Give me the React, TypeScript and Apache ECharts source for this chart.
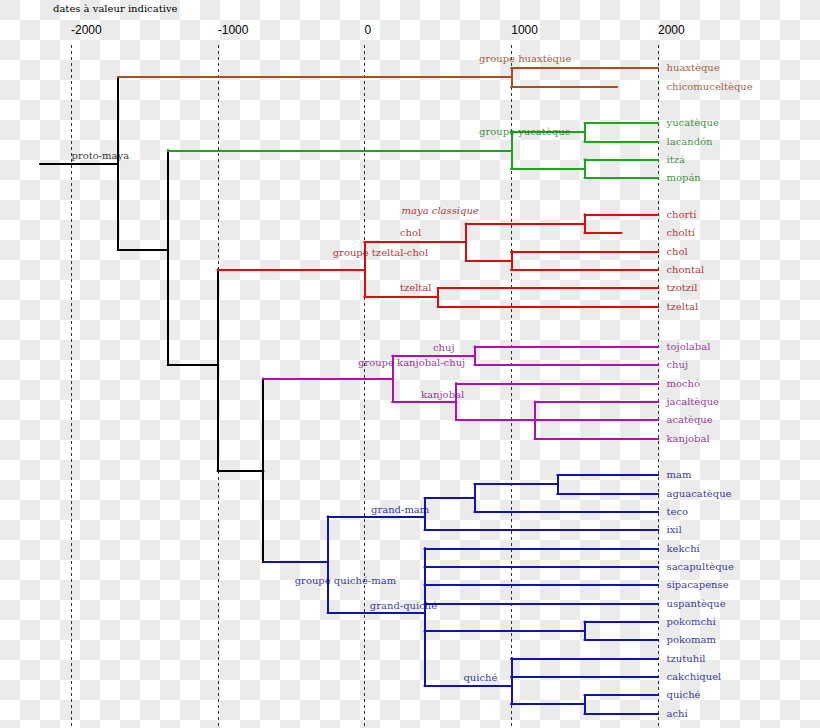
import React, { useEffect, useRef } from "react";
import * as echarts from "echarts";

// ---- axis ----
const ticks = [-2000, -1000, 0, 1000, 2000];
const axisTitle = "dates à valeur indicative";
const rootStart = -2210;

// ---- leaves (languages) ----
const leafNames = [
  "huaxtèque", "chicomuceltèque",
  "yucatèque", "lacandón", "itzá", "mopán",
  "chortí", "choltí", "chol", "chontal", "tzotzil", "tzeltal",
  "tojolabal", "chuj", "mochó", "jacaltèque", "acatèque", "kanjobal",
  "mam", "aguacatèque", "teco", "ixil", "kekchí", "sacapultèque", "sipacapense",
  "uspantèque", "pokomchí", "pokomam", "tzutuhil", "cakchiquel", "quiché", "achí",
];
const leafRows = [
  0, 1,
  3, 4, 5, 6,
  8, 9, 10, 11, 12, 13,
  15.2, 16.2, 17.2, 18.2, 19.2, 20.2,
  22.2, 23.2, 24.2, 25.2, 26.2, 27.2, 28.2,
  29.2, 30.2, 31.2, 32.2, 33.2, 34.2, 35.2,
];
const leafEnds = [
  2000, 1720,
  2000, 2000, 2000, 2000,
  2000, 1750, 2000, 2000, 2000, 2000,
  2000, 2000, 2000, 2000, 2000, 2000,
  2000, 2000, 2000, 2000, 2000, 2000, 2000,
  2000, 2000, 2000, 2000, 2000, 2000, 2000,
];

// ---- internal nodes: id, date, colour group, children, row (null = midpoint) ----
type NodeDef = [string, number, string, string[], number | null];
const nodes: NodeDef[] = [
  ["proto", -1680, "root", ["huaxG", "n1"], null],
  ["huaxG", 1000, "huax", ["huaxtèque", "chicomuceltèque"], null],
  ["n1", -1340, "root", ["yucG", "n2"], 9.93],
  ["yucG", 1000, "yuc", ["yuc1", "yuc2"], null],
  ["yuc1", 1500, "yuc", ["yucatèque", "lacandón"], null],
  ["yuc2", 1500, "yuc", ["itzá", "mopán"], null],
  ["n2", -1000, "root", ["tzchG", "n3"], 16.2],
  ["tzchG", 0, "tz", ["cholG", "tzelG"], null],
  ["cholG", 690, "tz", ["chortiG", "cholChontalG"], null],
  ["chortiG", 1500, "tz", ["chortí", "choltí"], null],
  ["cholChontalG", 1000, "tz", ["chol", "chontal"], null],
  ["tzelG", 500, "tz", ["tzotzil", "tzeltal"], null],
  ["n3", -690, "root", ["kcG", "qmG"], null],
  ["kcG", 190, "kc", ["chujG", "kanG"], null],
  ["chujG", 750, "kc", ["tojolabal", "chuj"], null],
  ["kanG", 625, "kc", ["mochó", "kan2"], null],
  ["kan2", 1160, "kc", ["jacaltèque", "acatèque", "kanjobal"], null],
  ["qmG", -250, "qm", ["gmG", "gqG"], 26.95],
  ["gmG", 410, "qm", ["gm1", "ixil"], 24.47],
  ["gm1", 750, "qm", ["gm2", "teco"], null],
  ["gm2", 1315, "qm", ["mam", "aguacatèque"], null],
  ["gqG", 410, "qm", ["kekchí", "sacapultèque", "sipacapense", "uspantèque", "pokG", "quiG"], 29.7],
  ["pokG", 1500, "qm", ["pokomchí", "pokomam"], null],
  ["quiG", 1000, "qm", ["tzutuhil", "cakchiquel", "qaG"], 33.7],
  ["qaG", 1500, "qm", ["quiché", "achí"], null],
];

// ---- group annotations ----
const noteTexts = [
  "proto-maya", "groupe huaxtèque", "groupe yucatèque", "maya classique", "chol",
  "groupe tzeltal-chol", "tzeltal", "chuj", "groupe kanjobal-chuj", "kanjobal",
  "grand-mam", "groupe quiché-mam", "grand-quiché", "quiché",
];
const noteDates = [-2000, 777, 777, 249, 238, -220, 238, 463, -48, 382, 41, -479, 33, 671];
const noteRows = [4.8, -0.49, 3.49, 7.77, 9.0, 10.04, 12.0, 15.24, 16.08, 17.79, 24.06, 27.97, 29.3, 33.24];
const noteGroups = ["root", "huax", "yuc", "tz", "tz", "tz", "tz", "kc", "kc", "kc", "qm", "qm", "qm", "qm"];
const noteItalic = [false, false, false, true, false, false, false, false, false, false, false, false, false, false];

const lineColors: Record<string, string> = {
  root: "#000000",
  huax: "#a5501e",
  yuc: "#1aa81a",
  tz: "#dd0c0c",
  kc: "#b010b0",
  qm: "#1212b0",
};
const textColors: Record<string, string> = {
  root: "#000000",
  huax: "#8b3a0c",
  yuc: "#087808",
  tz: "#a00000",
  kc: "#800080",
  qm: "#00008c",
};

const SERIF = "DejaVu Serif";

function buildTree() {
  const nodeMap: Record<string, NodeDef> = {};
  nodes.forEach((n) => (nodeMap[n[0]] = n));
  const rowCache: Record<string, number> = {};
  const rowOf = (id: string): number => {
    if (id in rowCache) return rowCache[id];
    let r: number;
    const n = nodeMap[id];
    if (!n) {
      r = leafRows[leafNames.indexOf(id)];
    } else if (n[4] !== null) {
      r = n[4] as number;
    } else {
      const ch = n[3];
      r = (rowOf(ch[0]) + rowOf(ch[ch.length - 1])) / 2;
    }
    rowCache[id] = r;
    return r;
  };
  const segs: { coords: number[][]; color: string }[] = [];
  const root = nodeMap["proto"];
  segs.push({ coords: [[rootStart, rowOf("proto")], [root[1], rowOf("proto")]], color: lineColors[root[2]] });
  nodes.forEach((n) => {
    const [, date, grp, ch] = n;
    segs.push({
      coords: [[date, rowOf(ch[0])], [date, rowOf(ch[ch.length - 1])]],
      color: lineColors[grp],
    });
    ch.forEach((c) => {
      const cn = nodeMap[c];
      const end = cn ? cn[1] : leafEnds[leafNames.indexOf(c)];
      const col = cn ? lineColors[cn[2]] : lineColors[grp];
      segs.push({ coords: [[date, rowOf(c)], [end, rowOf(c)]], color: col });
    });
  });
  const leafGrp: Record<string, string> = {};
  nodes.forEach((n) => n[3].forEach((c) => { if (!nodeMap[c]) leafGrp[c] = n[2]; }));
  return { segs, leafGrp };
}

// transparent-background checkerboard of the source image
function checkerboard(w: number, h: number, cell: number) {
  const rects: any[] = [];
  for (let r = 0; r * cell < h; r++) {
    for (let c = 0; c * cell < w; c++) {
      if ((r + c) % 2 === 0) {
        rects.push({
          type: "rect",
          silent: true,
          shape: { x: c * cell, y: r * cell, width: cell, height: cell },
          style: { fill: "#ebebeb", stroke: null },
        });
      }
    }
  }
  return rects;
}

export default function App() {
  const ref = useRef<HTMLDivElement>(null);
  useEffect(() => {
    if (!ref.current) return;
    const chart = echarts.init(ref.current, undefined, { renderer: "svg" });
    const { segs, leafGrp } = buildTree();
    const option: any = {
      animation: false,
      backgroundColor: "#ffffff",
      graphic: [
        {
          type: "group",
          left: 0,
          top: 0,
          silent: true,
          z: -1,
          children: checkerboard(820, 728, 20),
        },
      ],
      title: {
        text: axisTitle,
        left: 53,
        top: 3,
        padding: 0,
        textStyle: { fontFamily: SERIF, fontSize: 10, fontWeight: "normal", color: "#000" },
      },
      grid: { left: 71, right: 162, top: 45, bottom: 0, containLabel: false },
      xAxis: {
        type: "value",
        position: "top",
        min: ticks[0],
        max: ticks[ticks.length - 1],
        interval: ticks[1] - ticks[0],
        axisLine: { show: false },
        axisTick: { show: false },
        axisLabel: {
          show: true,
          align: "left",
          margin: 9,
          fontFamily: "Liberation Sans",
          fontSize: 12,
          color: "#000",
          formatter: (v: number) => String(v),
          showMinLabel: true,
          showMaxLabel: true,
        },
        splitLine: { show: true, lineStyle: { type: [3, 3], color: "#333", width: 1 } },
      },
      yAxis: { type: "value", inverse: true, min: -1.25, max: 36, show: false, splitLine: { show: false } },
      series: [
        {
          type: "lines",
          coordinateSystem: "cartesian2d",
          polyline: false,
          clip: false,
          silent: true,
          lineStyle: { width: 2, opacity: 1, curveness: 0 },
          data: segs.map((s) => ({
            coords: s.coords,
            lineStyle: { color: s.color, width: 2, opacity: 1, cap: "square" },
          })),
        },
        {
          type: "scatter",
          clip: false,
          silent: true,
          symbolSize: 1,
          itemStyle: { color: "rgba(0,0,0,0)" },
          label: {
            show: true,
            position: "right",
            distance: 8,
            formatter: "{b}",
            fontFamily: SERIF,
            fontSize: 10,
          },
          data: leafNames.map((n, i) => ({
            name: n,
            value: [ticks[ticks.length - 1], leafRows[i]],
            label: { color: textColors[leafGrp[n]] },
          })),
        },
        {
          type: "scatter",
          clip: false,
          silent: true,
          symbolSize: 1,
          itemStyle: { color: "rgba(0,0,0,0)" },
          label: {
            show: true,
            position: "right",
            distance: 0,
            formatter: "{b}",
            fontFamily: SERIF,
            fontSize: 10,
          },
          data: noteTexts.map((t, i) => ({
            name: t,
            value: [noteDates[i], noteRows[i]],
            label: { color: textColors[noteGroups[i]], fontStyle: noteItalic[i] ? "italic" : "normal" },
          })),
        },
      ],
    };
    chart.setOption(option);
    return () => chart.dispose();
  }, []);
  return <div ref={ref} style={{ position: "absolute", left: 0, top: 0, width: 820, height: 728 }} />;
}
